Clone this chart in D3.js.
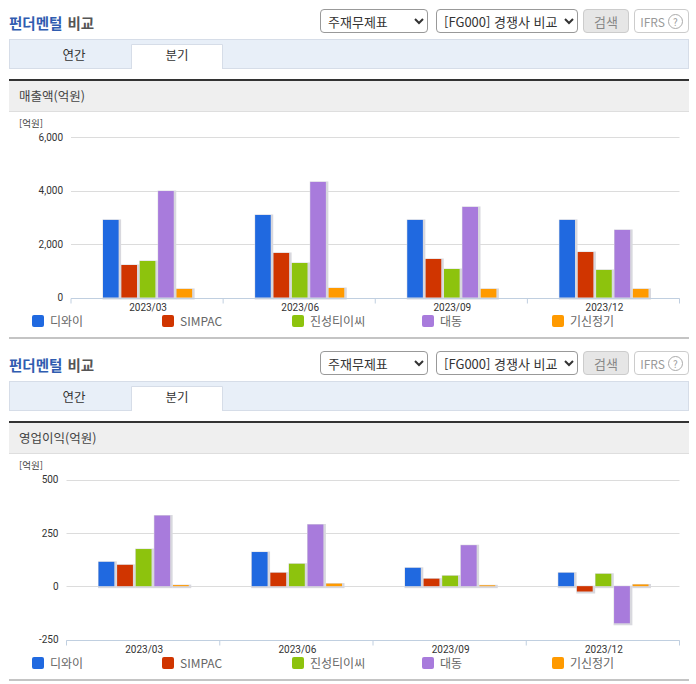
<!DOCTYPE html>
<html lang="ko">
<head>
<meta charset="utf-8">
<script src="https://cdn.jsdelivr.net/npm/d3@7"></script>
<style>
    html, body { margin: 0; padding: 0; background: #fff; overflow: hidden; }
    body { width: 696px; height: 684px; position: relative; font-family: "Noto Sans CJK KR", "Noto Sans", sans-serif; }
    svg { position: absolute; left: 0; top: 0; }
    text { font-family: "Noto Sans CJK KR", "Noto Sans", sans-serif; }
    select, .btn { position: absolute; box-sizing: border-box; height: 24px; font: 13px "Noto Sans CJK KR", sans-serif; color: #333; background: #fff; border: 1px solid #999; border-radius: 4px; }
    select { padding: 0 0 0 3px; }
    .btn { display: flex; align-items: center; justify-content: center; font-size: 12px; color: #999; }
    .axis path, .axis line { stroke: #c0cfe0; }
    .axis text { fill: #333; font-size: 10px; font-family: Roboto, sans-serif; }
    .grid line { stroke: #dcdcdc; }
</style>
</head>
<body>
<svg width="696" height="684"></svg>
<script>
const quarters = ["2023/03", "2023/06", "2023/09", "2023/12"];
const companies = ["디와이", "SIMPAC", "진성티이씨", "대동", "기신정기"];
const colors = ["#2069e0", "#d03500", "#8dc30d", "#a87bdc", "#ff9a00"];

// one row per quarter, same order as companies
const salesValues = [
    [2900, 1215, 1365, 3980, 320],
    [3085, 1665, 1290, 4320, 355],
    [2900, 1440, 1065, 3385, 320],
    [2900, 1700, 1030, 2525, 320]
];
const profitValues = [
    [114, 100, 174, 331, 5],
    [160, 63, 105, 289, 12],
    [86, 35, 49, 192, 4],
    [63, -25, 58, -174, 8]
];
const salesTicks = [0, 2000, 4000, 6000];
const profitTicks = [-250, 0, 250, 500];

const svg = d3.select("svg");
const body = d3.select("body");

function drawFrame(top, label) {
    const g = svg.append("g").attr("transform", `translate(0,${top})`);

    const title = g.append("text").attr("x", 9).attr("y", 29).attr("font-size", 14.5).attr("font-weight", 700);
    title.append("tspan").attr("fill", "#2f5cb0").text("펀더멘털");
    title.append("tspan").attr("fill", "#555").attr("dx", 5).text("비교");

    // tab bar
    g.append("rect").attr("x", 9.5).attr("y", 39.5).attr("width", 679).attr("height", 29)
        .attr("fill", "#e8eff8").attr("stroke", "#d6dde8");
    g.append("path").attr("d", "M131.5,69V44.5H222.5V69").attr("fill", "#fff").attr("stroke", "#d6dde8");
    g.append("text").attr("x", 74).attr("y", 60).attr("text-anchor", "middle").attr("font-size", 12.5).attr("fill", "#333").text("연간");
    g.append("text").attr("x", 177).attr("y", 60).attr("text-anchor", "middle").attr("font-size", 12.5).attr("fill", "#333").text("분기");

    // heading band of the chart
    g.append("rect").attr("x", 9).attr("y", 81).attr("width", 680).attr("height", 30).attr("fill", "#efefef");
    g.append("rect").attr("x", 9).attr("y", 111).attr("width", 680).attr("height", 1).attr("fill", "#dedede");
    g.append("rect").attr("x", 9).attr("y", 79).attr("width", 680).attr("height", 2).attr("fill", "#333");
    g.append("text").attr("x", 19).attr("y", 101).attr("font-size", 12.5).attr("fill", "#444").text(label);
    g.append("text").attr("x", 19).attr("y", 127).attr("font-size", 9.5).attr("fill", "#444").text("[억원]");

    // bottom rule
    g.append("rect").attr("x", 9).attr("y", 337).attr("width", 680).attr("height", 2).attr("fill", "#c4c4c4");

    // native controls
    const s1 = body.append("select").style("left", "320px").style("top", `${top + 9}px`).style("width", "108px");
    s1.append("option").text("주재무제표");
    const s2 = body.append("select").style("left", "436px").style("top", `${top + 9}px`).style("width", "142px");
    s2.append("option").text("[FG000] 경쟁사 비교");
    body.append("div").attr("class", "btn").text("검색")
        .style("left", "583px").style("top", `${top + 9}px`).style("width", "46px")
        .style("font-size", "13px").style("color", "#888")
        .style("background", "#e6e6e6").style("border-color", "#ccc");
    body.append("div").attr("class", "btn")
        .style("left", "634px").style("top", `${top + 9}px`).style("width", "55px")
        .style("border-color", "#ccc").text("IFRS").append("span")
        .style("margin-left", "3px").style("width", "13px").style("height", "13px")
        .style("border", "1px solid #aaa").style("border-radius", "50%").style("font-size", "10px")
        .style("line-height", "13px").style("text-align", "center").text("?");

    // legend
    const item = g.selectAll(".legend").data(companies).join("g")
        .attr("class", "legend")
        .attr("transform", (d, i) => `translate(${32 + i * 130},0)`);
    item.append("rect").attr("y", 315).attr("width", 12).attr("height", 12).attr("rx", 2)
        .attr("fill", (d, i) => colors[i]);
    item.append("text").attr("x", 18).attr("y", 325.5).attr("font-size", 12).attr("fill", "#666").text(d => d);
}

function drawChart(opts) {
    const { values, ticks, domain, left, yTop, yBottom, axisAt } = opts;
    const right = 679.5;

    const x0 = d3.scaleBand().domain(quarters).range([left, right]);
    const x1 = d3.scaleBand().domain(companies).range([32, x0.bandwidth() - 31]).paddingInner(0.15);
    const y = d3.scaleLinear().domain(domain).range([yBottom, yTop]);

    // gridlines
    svg.append("g").attr("class", "grid")
        .selectAll("line").data(ticks).join("line")
        .attr("x1", left).attr("x2", right)
        .attr("y1", d => Math.round(y(d)) + 0.5).attr("y2", d => Math.round(y(d)) + 0.5);

    // y labels, plain hyphen for the negative tick as in the source
    const yAxis = d3.axisLeft(y).tickValues(ticks).tickSize(0).tickPadding(8)
        .tickFormat(d => d3.format(",")(d).replace("−", "-"));
    svg.append("g").attr("class", "axis")
        .attr("transform", `translate(${left},0)`)
        .call(yAxis)
        .call(g => g.select(".domain").remove());

    // groups of bars
    const groups = svg.append("g").selectAll("g").data(values).join("g")
        .attr("transform", (d, i) => `translate(${x0(quarters[i])},0)`);

    // soft grey shadow behind every bar
    groups.selectAll(".shadow").data(d => d).join("rect")
        .attr("class", "shadow")
        .attr("x", (d, i) => x1(companies[i]) - 0.5)
        .attr("y", d => Math.min(y(d), y(0)) - 0.5)
        .attr("width", x1.bandwidth() + 3)
        .attr("height", d => Math.abs(y(d) - y(0)) + 2.5)
        .attr("fill", "#d8d8de");

    groups.selectAll(".bar").data(d => d).join("rect")
        .attr("class", "bar")
        .attr("x", (d, i) => x1(companies[i]))
        .attr("y", d => Math.min(y(d), y(0)))
        .attr("width", x1.bandwidth())
        .attr("height", d => Math.abs(y(d) - y(0)))
        .attr("fill", (d, i) => colors[i]);

    // bottom axis with ticks on category edges
    const xAxis = d3.axisBottom(x0).tickSize(0).tickPadding(5);
    const gx = svg.append("g").attr("class", "axis")
        .attr("transform", `translate(0,${Math.round(y(axisAt)) + 0.5})`)
        .call(xAxis);
    gx.select(".domain").attr("d", `M${left},0H${right}`);
    gx.selectAll("text").attr("dx", 1);
    gx.selectAll(".edge").data(d3.range(quarters.length + 1)).join("line")
        .attr("class", "edge")
        .attr("x1", i => left + i * x0.step()).attr("x2", i => left + i * x0.step())
        .attr("y1", 0).attr("y2", 5);
}

drawFrame(0, "매출액(억원)");
drawFrame(342, "영업이익(억원)");

drawChart({ values: salesValues, ticks: salesTicks, domain: [0, 6000], left: 71, yTop: 137, yBottom: 297.5, axisAt: 0 });
drawChart({ values: profitValues, ticks: profitTicks, domain: [-250, 500], left: 66.5, yTop: 479.5, yBottom: 639.5, axisAt: -250 });
</script>
</body>
</html>
